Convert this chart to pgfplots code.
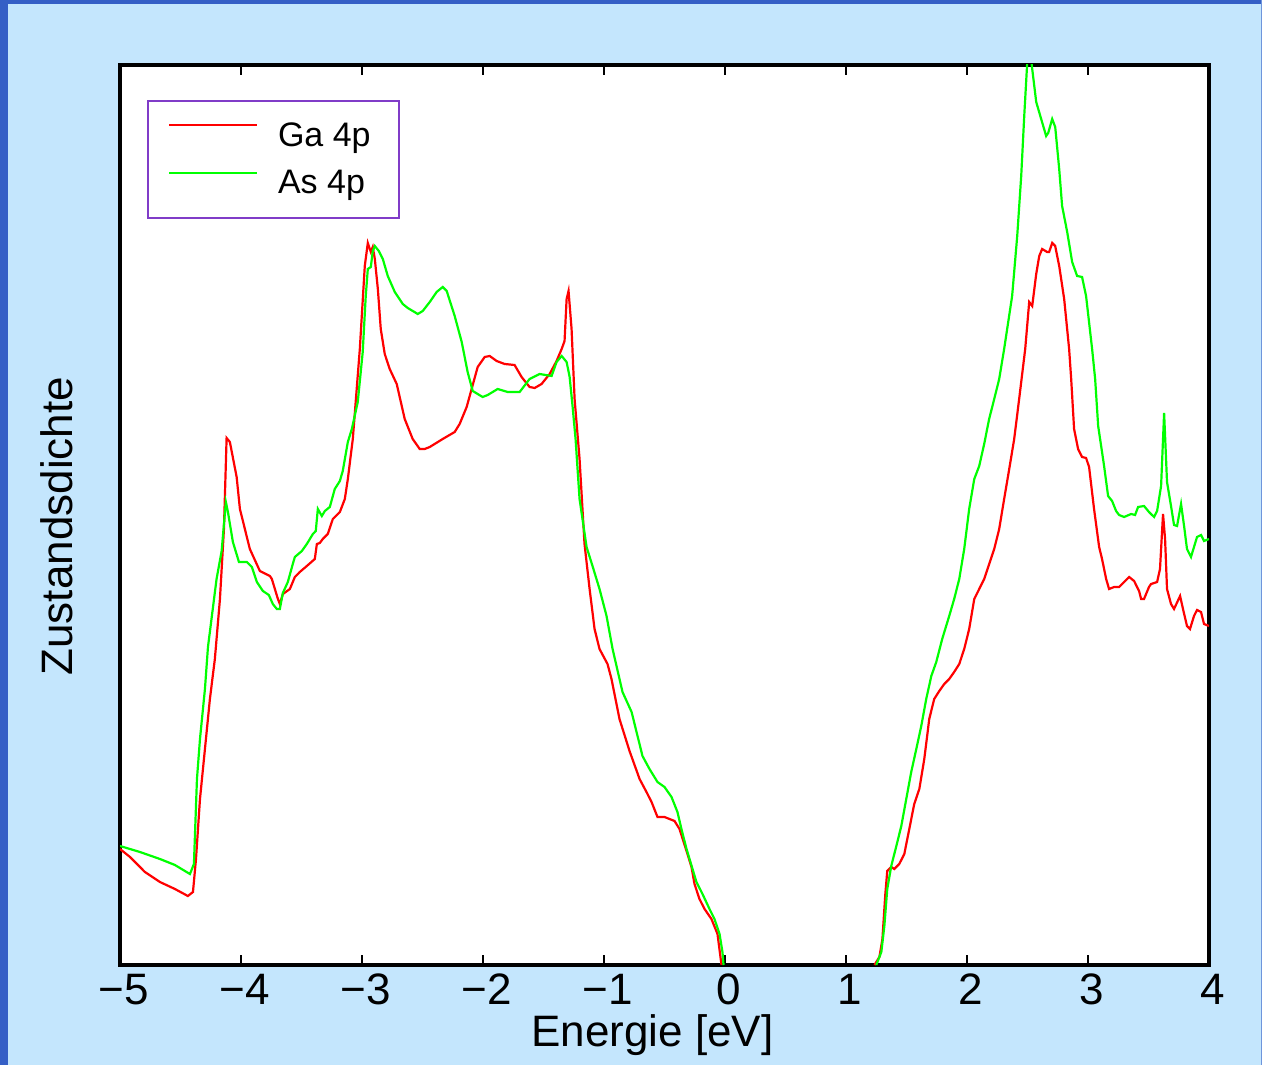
\documentclass[border=0pt]{standalone}
\usepackage{fontspec}
\setmainfont{Liberation Sans}
\usepackage{pgfplots}
\pgfplotsset{compat=1.18}
\definecolor{bgblue}{RGB}{196,230,253}
\definecolor{edgeblue}{RGB}{53,95,198}
\definecolor{legpurple}{RGB}{128,60,200}
\definecolor{cred}{RGB}{255,0,0}
\definecolor{cgreen}{RGB}{0,255,0}
\begin{document}
\begin{tikzpicture}
\useasboundingbox (0,0) rectangle (631pt,532.5pt);
\fill[bgblue] (0,0) rectangle (631pt,532.5pt);
\fill[edgeblue] (0,0) rectangle (4pt,532.5pt);
\fill[edgeblue] (0,530.5pt) rectangle (631pt,532.5pt);
\fill[edgeblue!60!bgblue] (630.5pt,0) rectangle (631pt,532.5pt);
\begin{axis}[
  at={(60pt,50pt)}, anchor=south west,
  scale only axis, width=544.5pt, height=450pt,
  xmin=-5, xmax=4, ymin=0, ymax=900,
  axis background/.style={fill=white},
  axis line style={line width=1.8pt, black},
  tick align=inside,
  major tick length=5pt,
  every tick/.style={line width=1pt, black},
  xtick={-5,-4,-3,-2,-1,0,1,2,3,4},
  xticklabels={−5,−4,−3,−2,−1,0,1,2,3,4},
  xticklabel style={font=\fontsize{22}{26}\selectfont, anchor=base, yshift=-19.5pt, xshift=2pt},
  ytick=\empty,
  xlabel={Energie [eV]},
  xlabel style={font=\fontsize{22}{26}\selectfont, at={(axis description cs:0.489,0)}, anchor=base, yshift=-40.5pt},
  ylabel={Zustandsdichte},
  ylabel style={font=\fontsize{22}{26}\selectfont, at={(axis description cs:0,0.4876)}, anchor=base, yshift=23.5pt},
  legend image code/.code={\draw[#1, line width=1pt] (0pt,5.35pt) -- (44pt,5.35pt);},
  legend cell align=left,
  legend style={at={(axis description cs:0,1)}, anchor=north west, xshift=13.5pt, yshift=-17.65pt,
    draw=legpurple, line width=1pt, inner xsep=10pt, inner ysep=8pt,
    font=\fontsize{17}{20}\selectfont, row sep=5.1pt, column sep=10pt,
    nodes={inner sep=0pt, text height=14.5pt, text depth=4.2pt}},
]
\addplot[cred, line width=1.1pt] coordinates {
(-5.000,116) (-4.917,108) (-4.794,93) (-4.670,83) (-4.546,76) (-4.439,69) (-4.397,73) (-4.372,106) (-4.339,166) (-4.298,216) (-4.257,266) (-4.216,306) (-4.174,366) (-4.141,436) (-4.119,527) (-4.092,523) (-4.036,488) (-4.009,456) (-3.968,436) (-3.927,416) (-3.844,394) (-3.761,389) (-3.745,386) (-3.695,366) (-3.679,361) (-3.654,371) (-3.596,376) (-3.555,388) (-3.514,393) (-3.456,399) (-3.390,406) (-3.373,421) (-3.349,422) (-3.324,426) (-3.283,431) (-3.241,446) (-3.183,453) (-3.142,466) (-3.117,486) (-3.076,526) (-3.018,616) (-2.977,699) (-2.952,722) (-2.927,713) (-2.911,718) (-2.894,706) (-2.869,676) (-2.845,636) (-2.812,611) (-2.771,596) (-2.713,581) (-2.647,546) (-2.581,526) (-2.523,516) (-2.482,516) (-2.440,518) (-2.333,526) (-2.234,533) (-2.193,541) (-2.135,558) (-2.094,576) (-2.044,598) (-1.986,608) (-1.945,609) (-1.887,604) (-1.821,601) (-1.739,600) (-1.681,588) (-1.615,578) (-1.573,577) (-1.516,581) (-1.449,591) (-1.392,604) (-1.350,616) (-1.326,624) (-1.309,666) (-1.293,674) (-1.268,636) (-1.243,566) (-1.202,506) (-1.161,421) (-1.119,376) (-1.078,336) (-1.037,316) (-0.971,301) (-0.938,286) (-0.872,246) (-0.789,214) (-0.706,186) (-0.649,173) (-0.607,163) (-0.558,148) (-0.500,148) (-0.417,144) (-0.376,136) (-0.310,111) (-0.277,98) (-0.252,81) (-0.211,66) (-0.169,56) (-0.112,46) (-0.062,31) (-0.029,0)
};
\addlegendentry{Ga 4p\kern4pt}
\addplot[cgreen, line width=1.1pt] coordinates {
(-5.000,119) (-4.835,113) (-4.670,106) (-4.546,100) (-4.422,91) (-4.389,101) (-4.364,186) (-4.339,226) (-4.298,276) (-4.273,318) (-4.202,386) (-4.160,414) (-4.125,463) (-4.108,453) (-4.067,423) (-4.017,403) (-3.951,403) (-3.910,398) (-3.869,383) (-3.819,374) (-3.770,370) (-3.737,361) (-3.704,356) (-3.679,356) (-3.654,372) (-3.613,383) (-3.572,401) (-3.555,408) (-3.497,414) (-3.456,421) (-3.406,431) (-3.382,434) (-3.365,456) (-3.332,449) (-3.307,454) (-3.266,458) (-3.225,476) (-3.183,484) (-3.159,494) (-3.117,523) (-3.084,536) (-3.035,563) (-2.994,613) (-2.969,669) (-2.952,696) (-2.927,698) (-2.911,714) (-2.894,719) (-2.861,714) (-2.828,706) (-2.787,689) (-2.729,673) (-2.663,661) (-2.622,657) (-2.539,651) (-2.498,654) (-2.440,663) (-2.383,673) (-2.333,678) (-2.300,674) (-2.234,649) (-2.176,623) (-2.127,593) (-2.085,574) (-2.003,568) (-1.961,570) (-1.879,576) (-1.796,573) (-1.697,573) (-1.615,586) (-1.532,591) (-1.433,589) (-1.392,603) (-1.350,609) (-1.309,603) (-1.284,588) (-1.260,559) (-1.235,526) (-1.202,466) (-1.144,418) (-1.095,399) (-1.037,376) (-0.979,349) (-0.929,316) (-0.847,273) (-0.772,253) (-0.682,209) (-0.624,196) (-0.558,183) (-0.500,178) (-0.442,168) (-0.393,153) (-0.360,136) (-0.318,116) (-0.236,83) (-0.186,71) (-0.128,56) (-0.087,46) (-0.045,31) (-0.021,13) (-0.012,0)
};
\addlegendentry{As 4p}
\addplot[cred, line width=1.1pt, forget plot] coordinates {
(1.235,0) (1.276,8) (1.301,26) (1.325,71) (1.341,94) (1.374,98) (1.399,96) (1.440,101) (1.482,111) (1.523,136) (1.564,161) (1.606,176) (1.647,206) (1.688,246) (1.729,266) (1.771,274) (1.812,281) (1.853,286) (1.894,293) (1.936,301) (1.977,316) (2.018,336) (2.060,366) (2.101,376) (2.142,386) (2.225,416) (2.266,436) (2.307,466) (2.349,496) (2.390,526) (2.431,566) (2.481,616) (2.514,663) (2.539,659) (2.572,691) (2.597,709) (2.621,716) (2.662,713) (2.679,713) (2.704,722) (2.729,719) (2.762,699) (2.803,666) (2.844,616) (2.861,586) (2.885,536) (2.918,516) (2.951,508) (2.984,507) (3.009,498) (3.050,456) (3.092,418) (3.116,406) (3.150,386) (3.174,376) (3.216,378) (3.257,378) (3.298,383) (3.340,388) (3.381,384) (3.422,374) (3.439,366) (3.463,366) (3.504,378) (3.521,381) (3.571,383) (3.595,396) (3.620,451) (3.637,426) (3.653,376) (3.686,361) (3.711,356) (3.761,369) (3.785,356) (3.818,339) (3.843,336) (3.876,349) (3.901,355) (3.934,353) (3.959,341) (4.000,339)
};
\addplot[cgreen, line width=1.1pt, forget plot] coordinates {
(1.250,0) (1.292,13) (1.317,39) (1.341,76) (1.374,99) (1.416,119) (1.457,139) (1.498,166) (1.539,193) (1.581,216) (1.622,239) (1.663,266) (1.705,289) (1.746,303) (1.795,326) (1.853,349) (1.894,366) (1.936,386) (1.977,416) (2.018,456) (2.060,486) (2.101,499) (2.142,521) (2.183,546) (2.225,566) (2.266,586) (2.307,616) (2.373,669) (2.415,729) (2.448,789) (2.473,849) (2.497,901) (2.514,930) (2.530,905) (2.572,863) (2.613,846) (2.654,829) (2.671,832) (2.704,846) (2.729,838) (2.762,796) (2.786,759) (2.828,733) (2.869,703) (2.910,689) (2.951,688) (2.984,669) (3.034,616) (3.059,586) (3.084,539) (3.133,499) (3.166,469) (3.199,464) (3.232,454) (3.257,450) (3.298,448) (3.356,451) (3.389,450) (3.414,458) (3.463,459) (3.504,453) (3.546,448) (3.571,454) (3.604,479) (3.629,552) (3.653,483) (3.686,459) (3.711,440) (3.736,439) (3.769,461) (3.794,439) (3.818,416) (3.851,408) (3.876,418) (3.901,428) (3.934,430) (3.959,424) (4.000,426)
};
\end{axis}
\end{tikzpicture}
\end{document}
